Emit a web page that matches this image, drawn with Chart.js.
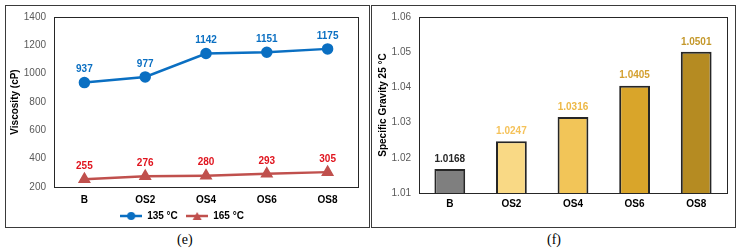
<!DOCTYPE html>
<html>
<head>
<meta charset="utf-8">
<script src="https://cdn.jsdelivr.net/npm/chart.js@4.4.0/dist/chart.umd.min.js"></script>
<style>
  body { margin: 0; background: #fff; width: 741px; height: 252px; position: relative; overflow: hidden; }
  .panel { position: absolute; top: 5px; height: 223px; border: 1px solid #3a3a3a; box-sizing: border-box; }
  canvas { position: absolute; }
  .cap { position: absolute; top: 232px; font: 14px "Liberation Serif", "DejaVu Serif", serif; color: #000; }
</style>
</head>
<body>
<canvas id="viscGrafico" style="left:6px; top:3px;" width="362" height="228"></canvas>
<canvas id="sgGrafico" style="left:372px; top:3px;" width="362" height="225"></canvas>
<div class="panel" style="left:5px; width:365px;"></div>
<div class="panel" style="left:371px; width:365px;"></div>
<div class="cap" style="left:177px;">(e)</div>
<div class="cap" style="left:547px;">(f)</div>
<script>
// dados
const categorias = ["B", "OS2", "OS4", "OS6", "OS8"];
const visc135 = [937, 977, 1142, 1151, 1175];
const visc165 = [255, 276, 280, 293, 305];
const gravidade = [1.0168, 1.0247, 1.0316, 1.0405, 1.0501];
const viscTicks = [200, 400, 600, 800, 1000, 1200, 1400];
const sgTicks = [1.01, 1.02, 1.03, 1.04, 1.05, 1.06];

const fonte = "'Liberation Sans', Arial, sans-serif";
const azul = "#0A6FC2";
const vermelho = "#C0504D";

// moldura da área do gráfico
const moldura = {
  id: "moldura",
  afterDraw(chart) {
    const a = chart.chartArea, ctx = chart.ctx;
    ctx.save();
    ctx.strokeStyle = "#262626";
    ctx.lineWidth = 1;
    ctx.strokeRect(Math.round(a.left) + 0.5, Math.round(a.top) + 0.5, Math.round(a.right - a.left), Math.round(a.bottom - a.top));
    ctx.restore();
  }
};

// rótulos de valores acima dos pontos/barras
const rotulos = {
  id: "rotulos",
  afterDatasetsDraw(chart) {
    const ctx = chart.ctx;
    chart.data.datasets.forEach((ds, i) => {
      const meta = chart.getDatasetMeta(i);
      meta.data.forEach((el, j) => {
        ctx.save();
        ctx.font = "bold 10px " + fonte;
        ctx.textAlign = "center";
        ctx.textBaseline = "middle";
        ctx.fillStyle = Array.isArray(ds.labelColor) ? ds.labelColor[j] : ds.labelColor;
        let txt = ds.labelFmt ? ds.labelFmt(ds.data[j]) : String(ds.data[j]);
        ctx.fillText(txt, el.x, el.y - ds.labelOffset);
        ctx.restore();
      });
    });
  }
};

// ícones da legenda (linha + marcador)
function iconeLegenda(cor, forma) {
  const c = document.createElement("canvas");
  c.width = 22; c.height = 10;
  const g = c.getContext("2d");
  g.strokeStyle = cor; g.fillStyle = cor; g.lineWidth = 2.5;
  g.beginPath(); g.moveTo(0, 5); g.lineTo(22, 5); g.stroke();
  g.beginPath();
  if (forma === "circle") {
    g.arc(11, 5, 4, 0, Math.PI * 2);
  } else {
    g.moveTo(11, 1); g.lineTo(15.5, 9); g.lineTo(6.5, 9); g.closePath();
  }
  g.fill();
  return c;
}

//Gráfico viscosidade
let viscGrafico = document.getElementById("viscGrafico");
const configVisc = {
  type: "line",
  data: {
    labels: categorias,
    datasets: [
      {
        label: "135 °C",
        data: visc135,
        borderColor: azul,
        backgroundColor: azul,
        borderWidth: 2.5,
        pointStyle: "circle",
        pointRadius: 4.5,
        labelColor: azul,
        labelOffset: 13,
        legendIcon: iconeLegenda(azul, "circle"),
      },
      {
        label: "165 °C",
        data: visc165,
        borderColor: vermelho,
        backgroundColor: vermelho,
        borderWidth: 2.5,
        pointStyle: "triangle",
        pointRadius: 5,
        labelColor: "#E0141E",
        labelOffset: 13,
        legendIcon: iconeLegenda(vermelho, "triangle"),
      },
    ],
  },
  options: {
    responsive: false,
    animation: false,
    layout: { padding: { top: 7, right: 10, bottom: 0, left: 0 } },
    plugins: {
      tooltip: { enabled: false },
      legend: {
        display: true,
        position: "bottom",
        labels: {
          usePointStyle: true,
          pointStyleWidth: 22,
          padding: 0,
          color: "#000",
          font: { family: fonte, size: 10, weight: "bold" },
          generateLabels(chart) {
            const n = chart.data.datasets.length;
            return chart.data.datasets.map((ds, i) => ({
              text: i < n - 1 ? ds.label + "   " : ds.label,
              pointStyle: ds.legendIcon,
              fillStyle: ds.borderColor,
              strokeStyle: ds.borderColor,
              lineWidth: 0,
              fontColor: "#000",
              datasetIndex: i,
            }));
          },
        },
      },
    },
    scales: {
      x: {
        offset: true,
        grid: { display: false, drawTicks: false },
        border: { display: false },
        ticks: { padding: 7, color: "#000", font: { family: fonte, size: 10, weight: "bold" } },
        afterFit(s) { s.height = 24; },
      },
      y: {
        min: 200,
        max: 1400,
        afterBuildTicks(s) { s.ticks = viscTicks.map(v => ({ value: v })); },
        grid: { display: false, drawTicks: false },
        border: { display: false },
        ticks: { padding: 8, color: "#595959", font: { family: fonte, size: 10 }, callback: v => String(v) },
        title: { display: true, text: "Viscosity (cP)", color: "#000", padding: { top: 3, bottom: 0 }, font: { family: fonte, size: 10, weight: "bold" } },
        afterFit(s) { s.width = 48; },
      },
    },
  },
  plugins: [moldura, rotulos],
};
let myViscGrafico = new Chart(viscGrafico, configVisc);

//Gráfico gravidade específica
let sgGrafico = document.getElementById("sgGrafico");
const configSg = {
  type: "bar",
  data: {
    labels: categorias,
    datasets: [
      {
        label: "Specific Gravity 25 °C",
        data: gravidade,
        backgroundColor: ["#7F7F7F", "#F9D985", "#F2C558", "#D9A52A", "#B58B22"],
        borderColor: "#262626",
        borderWidth: 2,
        barPercentage: 0.5,
        categoryPercentage: 1,
        labelColor: ["#262626", "#F5C25A", "#EDB845", "#D4A030", "#C4982B"],
        labelOffset: 10,
        labelFmt: v => v.toFixed(4),
      },
    ],
  },
  options: {
    responsive: false,
    animation: false,
    layout: { padding: { top: 7, right: 7, bottom: 17, left: 0 } },
    plugins: { legend: { display: false }, tooltip: { enabled: false } },
    scales: {
      x: {
        grid: { display: false, drawTicks: false },
        border: { display: false },
        ticks: { padding: 5, color: "#000", font: { family: fonte, size: 10, weight: "bold" } },
        afterFit(s) { s.height = 18; },
      },
      y: {
        min: 1.01,
        max: 1.06,
        afterBuildTicks(s) { s.ticks = sgTicks.map(v => ({ value: v })); },
        grid: { display: false, drawTicks: false },
        border: { display: false },
        ticks: { padding: 8, color: "#595959", font: { family: fonte, size: 10 }, callback: v => v.toFixed(2) },
        title: { display: true, text: "Specific Gravity 25 °C", color: "#000", padding: { top: 5, bottom: 0 }, font: { family: fonte, size: 10, weight: "bold" } },
        afterFit(s) { s.width = 47; },
      },
    },
  },
  plugins: [moldura, rotulos],
};
let mySgGrafico = new Chart(sgGrafico, configSg);
</script>
</body>
</html>
